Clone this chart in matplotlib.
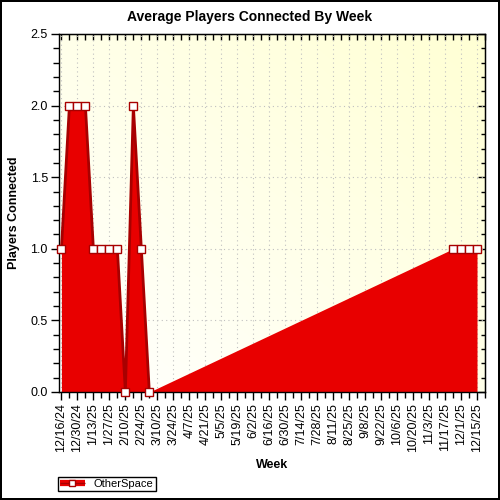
import matplotlib
matplotlib.use("Agg")
import matplotlib.pyplot as plt
import matplotlib.dates as mdates
from matplotlib.lines import Line2D
from matplotlib.ticker import MultipleLocator
import numpy as np
import pandas as pd

plt.rcParams['font.family'] = ['Liberation Sans', 'DejaVu Sans']

# Weeks that have data, and the average players connected in each
weeks = ['2024-12-16', '2024-12-23', '2024-12-30', '2025-01-06', '2025-01-13',
         '2025-01-20', '2025-01-27', '2025-02-03', '2025-02-10', '2025-02-17',
         '2025-02-24', '2025-03-03', '2025-11-24', '2025-12-01', '2025-12-08',
         '2025-12-15']
players = [1, 2, 2, 2, 1, 1, 1, 1, 0, 2, 1, 0, 1, 1, 1, 1]
series_name = 'OtherSpace'

# x tick labels (every second week)
tick_labels = ['12/16/24', '12/30/24', '1/13/25', '1/27/25', '2/10/25', '2/24/25',
               '3/10/25', '3/24/25', '4/7/25', '4/21/25', '5/5/25', '5/19/25',
               '6/2/25', '6/16/25', '6/30/25', '7/14/25', '7/28/25', '8/11/25',
               '8/25/25', '9/8/25', '9/22/25', '10/6/25', '10/20/25', '11/3/25',
               '11/17/25', '12/1/25', '12/15/25']

fill_color = '#e80000'
line_color = '#a80000'

x = mdates.date2num(pd.to_datetime(weeks))
y = np.array(players, dtype=float)
ticks = mdates.date2num(pd.to_datetime(tick_labels, format='%m/%d/%y'))
minor_ticks = ticks + 7

fig = plt.figure(figsize=(5, 5), dpi=100)
fig.patch.set_edgecolor('black')
fig.patch.set_linewidth(1.6)

rect = [59 / 500, 1 - 392 / 500, 426 / 500, 358 / 500]

# gradient background behind the plot
bg = fig.add_axes(rect, zorder=0)
gx, gy = np.meshgrid(np.linspace(0, 1, 200), np.linspace(0, 1, 200))
t = (gx + gy) / 2
rgb = np.dstack([np.ones_like(t), np.ones_like(t), 1 - 0.17 * t])
bg.imshow(rgb, extent=[0, 1, 0, 1], origin='lower', aspect='auto')
bg.axis('off')

ax = fig.add_axes(rect, zorder=1)
ax.patch.set_alpha(0)
ax.set_axisbelow(True)

# area fills across the missing weeks, the line only joins consecutive weeks
ax.fill_between(x, y, color=fill_color, lw=0, zorder=2)
start = 0
for i in range(1, len(x) + 1):
    if i == len(x) or x[i] - x[i - 1] > 7:
        ax.plot(x[start:i], y[start:i], color=line_color, lw=2, zorder=3)
        start = i
ax.plot(x, y, ls='none', marker='s', ms=5.5, mfc='white', mec=line_color,
        mew=1, zorder=4, clip_on=False)

ax.set_xlim(mdates.date2num(pd.Timestamp('2024-12-13 21:00')),
            mdates.date2num(pd.Timestamp('2025-12-19 12:00')))
ax.set_ylim(0, 2.5)

ax.set_xticks(ticks)
ax.set_xticklabels(tick_labels, rotation=90, fontsize=9)
ax.set_xticks(minor_ticks, minor=True)
ax.yaxis.set_major_locator(MultipleLocator(0.5))
ax.yaxis.set_minor_locator(MultipleLocator(0.1))
ax.yaxis.set_major_formatter(lambda v, p: f'{v:.1f}')
ax.tick_params(axis='both', which='major', direction='out', length=6,
               width=1, labelsize=9, pad=2)
ax.tick_params(axis='both', which='minor', direction='out', length=4, width=1)

ax.grid(True, which='major', color='#c0c0c0', linestyle=(0, (1, 3)), lw=0.8)
for s in ax.spines.values():
    s.set_linewidth(1)

# inward ticks on the top and right edges
top = ax.secondary_xaxis('top')
top.set_xticks(np.concatenate([ticks, minor_ticks]))
top.tick_params(direction='in', length=4, width=1, labeltop=False)
right = ax.secondary_yaxis('right')
right.yaxis.set_major_locator(MultipleLocator(0.5))
right.yaxis.set_minor_locator(MultipleLocator(0.1))
right.tick_params(which='major', direction='in', length=5, width=1, labelright=False)
right.tick_params(which='minor', direction='in', length=3, width=1)

fig.text(0.5, 1 - 17 / 500, 'Average Players Connected By Week',
         ha='center', va='center', fontsize=10, fontweight='bold')
fig.text(14 / 500, 1 - 213 / 500, 'Players Connected', rotation=90,
         ha='center', va='center', fontsize=9, fontweight='bold')
fig.text(272 / 500, 1 - 465 / 500, 'Week', ha='center', va='center',
         fontsize=9, fontweight='bold')

# legend symbol: red band, dark centre line, white square
band = Line2D([], [], color=fill_color, lw=4.5, solid_capstyle='butt')
centre = Line2D([], [], color=line_color, lw=1, solid_capstyle='butt')
mark = Line2D([], [], ls='none', marker='s', ms=4.5, mfc='white',
              mec=line_color, mew=1)
leg = fig.legend(handles=[(band, centre, mark)], labels=[series_name],
                 loc='lower left', bbox_to_anchor=(58 / 500, 9 / 500),
                 frameon=True, fancybox=False, edgecolor='black', framealpha=1,
                 fontsize=8, borderpad=0.2, handlelength=2.2, handletextpad=0.8,
                 borderaxespad=0)
leg.get_frame().set_linewidth(1)

fig.savefig('out.png', dpi=100)
